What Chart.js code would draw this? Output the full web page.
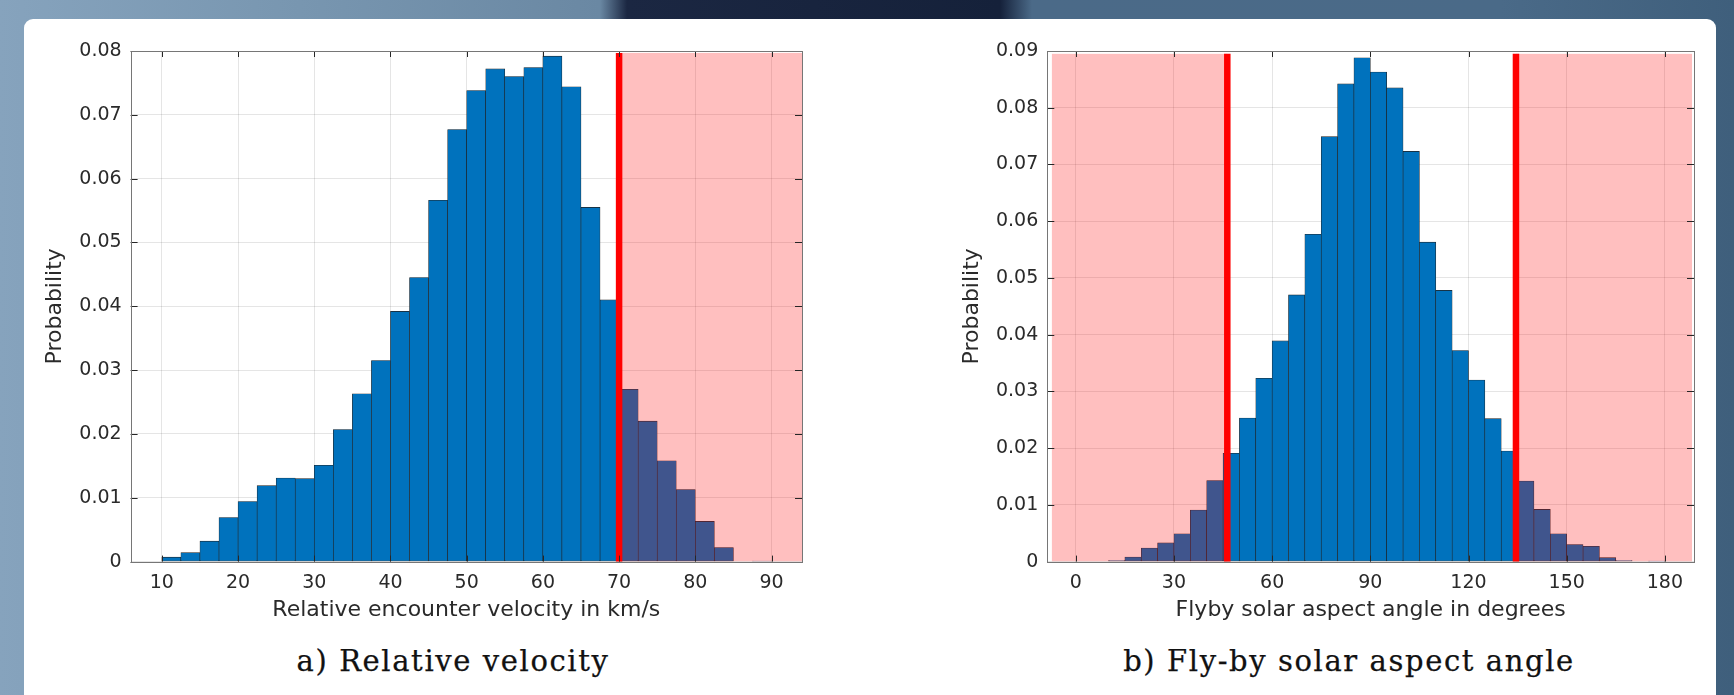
<!DOCTYPE html>
<html><head><meta charset="utf-8">
<script src="https://cdn.jsdelivr.net/npm/chart.js@4.4.1/dist/chart.umd.min.js"></script>
<style>
html,body{margin:0;padding:0;}
body{width:1734px;height:695px;overflow:hidden;position:relative;
 background: linear-gradient(90deg,#86a3bd 0px,#7896b0 300px,#6a88a3 600px,#1b2742 627px,#15213a 1000px,#4b6a88 1032px,#4a6a88 1500px,#3f5f7c 1734px);}
#card{position:absolute;left:24px;top:19px;width:1692px;height:700px;background:#fff;border-radius:9px;}
canvas{position:absolute;}
.cap{position:absolute;font-family:"DejaVu Serif";font-size:29px;letter-spacing:1.6px;color:#111;white-space:nowrap;transform:translateX(-50%);line-height:1;-webkit-text-stroke:0.25px #111;}
</style></head>
<body>
<div id="card"></div>
<canvas id="c1" width="785" height="600" style="left:30px;top:30px"></canvas>
<canvas id="c2" width="761" height="600" style="left:947px;top:30px"></canvas>
<div class="cap" style="left:453px;top:647px">a) Relative velocity</div>
<div class="cap" style="left:1349px;top:647px">b) Fly-by solar aspect angle</div>
<script>
// ---- data: relative velocity histogram (bin width 2.5 km/s) ----
const velocityBinCentres = [11.25,13.75,16.25,18.75,21.25,23.75,26.25,28.75,31.25,33.75,36.25,38.75,41.25,43.75,46.25,48.75,51.25,53.75,56.25,58.75,61.25,63.75,66.25,68.75,71.25,73.75,76.25,78.75,81.25,83.75,86.25,88.75];
const velocityProb = [0.0007,0.0014,0.0032,0.0069,0.0094,0.0119,0.0131,0.0130,0.0151,0.0207,0.0263,0.0315,0.0392,0.0445,0.0566,0.0677,0.0738,0.0772,0.0760,0.0774,0.0792,0.0744,0.0555,0.0410,0.0270,0.0220,0.0158,0.0113,0.0063,0.0022,0,0.0001];
const velocityTicks = [10,20,30,40,50,60,70,80,90];
const velocityProbTicks = [0,0.01,0.02,0.03,0.04,0.05,0.06,0.07,0.08];
const velocityLimit = [70];
const velocityShade = [[70,94]];

// ---- data: fly-by solar aspect angle histogram (bin width 5 deg) ----
const angleBinCentres = [2.5,7.5,12.5,17.5,22.5,27.5,32.5,37.5,42.5,47.5,52.5,57.5,62.5,67.5,72.5,77.5,82.5,87.5,92.5,97.5,102.5,107.5,112.5,117.5,122.5,127.5,132.5,137.5,142.5,147.5,152.5,157.5,162.5,167.5,172.5,177.5];
const angleProb = [0,0,0.0002,0.0008,0.0024,0.0033,0.0049,0.0091,0.0143,0.0191,0.0253,0.0323,0.0389,0.0470,0.0577,0.0749,0.0842,0.0888,0.0863,0.0835,0.0723,0.0563,0.0478,0.0372,0.0320,0.0252,0.0195,0.0142,0.0092,0.0049,0.0030,0.0027,0.0007,0.0002,0,0.0001];
const angleTicks = [0,30,60,90,120,150,180];
const angleProbTicks = [0,0.01,0.02,0.03,0.04,0.05,0.06,0.07,0.08,0.09];
const angleLimits = [46.3,134.5];
const angleShade = [[-7.3,46.3],[134.5,188.3]];

const TXT = '#2a2a2a';

const overlayPlugin = {
  id: 'overlay',
  afterDatasetsDraw(chart, args, opts) {
    const {ctx, chartArea: a, scales: {x, y}} = chart;
    ctx.save();
    ctx.beginPath(); ctx.rect(a.left, a.top, a.right - a.left, a.bottom - a.top); ctx.clip();
    const yt = y.getPixelForValue(opts.top), yb = y.getPixelForValue(0);
    ctx.fillStyle = 'rgba(255,0,0,0.25)';
    opts.regions.forEach(r => {
      const x1 = x.getPixelForValue(r[0]), x2 = x.getPixelForValue(r[1]);
      ctx.fillRect(x1, yt, x2 - x1, yb - yt);
    });
    ctx.strokeStyle = '#ff0000'; ctx.lineWidth = 6.5;
    opts.lines.forEach(v => {
      const px = x.getPixelForValue(v);
      ctx.beginPath(); ctx.moveTo(px, yt); ctx.lineTo(px, yb + 1); ctx.stroke();
    });
    ctx.restore();
  },
  afterDraw(chart) {
    const {ctx, chartArea: a, scales: {x, y}} = chart;
    ctx.save();
    ctx.strokeStyle = '#262626'; ctx.lineWidth = 1;
    x.ticks.forEach(t => {
      const px = Math.round(x.getPixelForValue(t.value)) + 0.5;
      ctx.beginPath();
      ctx.moveTo(px, a.bottom); ctx.lineTo(px, a.bottom - 6);
      ctx.moveTo(px, a.top); ctx.lineTo(px, a.top + 6);
      ctx.stroke();
    });
    y.ticks.forEach(t => {
      const py = Math.round(y.getPixelForValue(t.value)) + 0.5;
      ctx.beginPath();
      ctx.moveTo(a.left, py); ctx.lineTo(a.left + 7, py);
      ctx.moveTo(a.right, py); ctx.lineTo(a.right - 7, py);
      ctx.stroke();
    });
    ctx.strokeStyle = '#767676';
    ctx.strokeRect(Math.round(a.left) + 0.5, Math.round(a.top) + 0.5, Math.round(a.right - a.left), Math.round(a.bottom - a.top));
    ctx.restore();
  }
};

function makeChart(id, centres, values, xTicks, yTicks, xMin, xMax, yMax, xTitle, yAxisWidth, padRight, shade, lines, shadeTop) {
  return new Chart(document.getElementById(id), {
    type: 'bar',
    data: {
      datasets: [{
        data: centres.map((c, i) => ({x: c, y: values[i]})),
        backgroundColor: '#0072BD',
        borderColor: '#1f1f1f',
        borderWidth: 0.6,
        borderSkipped: false,
        barPercentage: 1,
        categoryPercentage: 1
      }]
    },
    options: {
      responsive: false, animation: false, devicePixelRatio: 1,
      layout: {padding: {top: 21, right: padRight, left: 0, bottom: 0}},
      plugins: {
        legend: {display: false}, tooltip: {enabled: false}, title: {display: false},
        overlay: {regions: shade, lines: lines, top: shadeTop}
      },
      scales: {
        x: {
          type: 'linear', min: xMin, max: xMax, offset: false,
          afterBuildTicks: s => { s.ticks = xTicks.map(v => ({value: v})); },
          afterFit: s => { s.height = 68.4; },
          grid: {color: 'rgba(0,0,0,0.1)', drawTicks: false, offset: false},
          border: {display: false},
          ticks: {padding: 10, color: TXT, font: {family: 'DejaVu Sans', size: 19}, maxRotation: 0},
          title: {display: true, text: xTitle, color: TXT, font: {family: 'DejaVu Sans', size: 22}, padding: {top: 0, bottom: 7}}
        },
        y: {
          min: 0, max: yMax,
          afterBuildTicks: s => { s.ticks = yTicks.map(v => ({value: v})); },
          afterFit: s => { s.width = yAxisWidth; },
          grid: {color: 'rgba(0,0,0,0.1)', drawTicks: false},
          border: {display: false},
          ticks: {padding: 9, color: TXT, font: {family: 'DejaVu Sans', size: 19},
                  callback: v => v === 0 ? '0' : v.toFixed(2)},
          title: {display: true, text: 'Probability', color: TXT, font: {family: 'DejaVu Sans', size: 22}, padding: {top: 12, bottom: 0}}
        }
      }
    },
    plugins: [overlayPlugin]
  });
}

makeChart('c1', velocityBinCentres, velocityProb, velocityTicks, velocityProbTicks, 5.9, 94, 0.08,
  'Relative encounter velocity in km/s', 100.6, 13, velocityShade, velocityLimit, 0.0797);
makeChart('c2', angleBinCentres, angleProb, angleTicks, angleProbTicks, -8.7, 188.9, 0.09,
  'Flyby solar aspect angle in degrees', 100.3, 14, angleShade, angleLimits, 0.0895);
</script>
</body></html>
